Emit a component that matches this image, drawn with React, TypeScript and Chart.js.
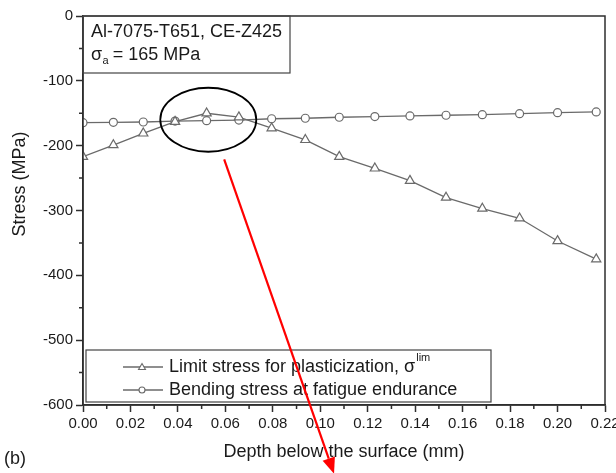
import React, { useEffect, useRef } from "react";
import { Chart, registerables } from "chart.js";

Chart.register(...registerables);

// ---- data ----
const depthMm = [0, 0.0128, 0.0254, 0.0388, 0.0521, 0.0657, 0.0795, 0.0937, 0.108, 0.123, 0.1378, 0.153, 0.1683, 0.184, 0.2, 0.2163];
const limitStress = [-217, -199, -181, -163, -150, -156, -173, -191, -217, -235, -254, -280, -297, -312, -347, -375];
const bendingStress = [-164.5, -164, -163.5, -162, -161.5, -160.5, -158.5, -157.7, -156.2, -155.2, -154.2, -153.1, -152.2, -150.6, -149.1, -148];

const seriesLabels = ["Limit stress for plasticization, σ", "Bending stress at fatigue endurance"];
const seriesSuperscript = "lim";
const annotationTitle = "Al-7075-T651, CE-Z425";
const annotationSigma = "σ";
const annotationSub = "a";
const annotationValue = "= 165 MPa";
const xTitle = "Depth below the surface (mm)";
const yTitle = "Stress (MPa)";
const panelLabel = "(b)";

const xMin = 0;
const xMax = 0.22;
const xStep = 0.02;
const yMin = -600;
const yMax = 0;
const yStep = 100;

// highlighted region (ellipse) and arrow, in data units
const ellipseCenter = [0.0528, -160];
const arrowStart = [0.0595, -221];
const arrowEnd = [0.1058, -706];

const FONT = '"Liberation Sans", Arial, Helvetica, sans-serif';
const LINE = "#6a6a6a";
const INK = "#1a1a1a";
const FRAME = "#2e2e2e";

function drawTriangle(ctx: CanvasRenderingContext2D, x: number, y: number, r: number) {
  ctx.beginPath();
  for (let i = 0; i < 3; i++) {
    const a = (i * 2 * Math.PI) / 3;
    const px = x + Math.sin(a) * r;
    const py = y - Math.cos(a) * r;
    if (i === 0) ctx.moveTo(px, py);
    else ctx.lineTo(px, py);
  }
  ctx.closePath();
  ctx.fill();
  ctx.stroke();
}

const overlayPlugin = {
  id: "overlay",
  afterDraw(chart: any) {
    const { ctx, chartArea: ca, scales } = chart;
    const xs = scales.x;
    const ys = scales.y;
    ctx.save();

    // frame
    ctx.strokeStyle = FRAME;
    ctx.lineWidth = 1.5;
    ctx.strokeRect(ca.left, ca.top, ca.right - ca.left, ca.bottom - ca.top);

    // minor ticks
    ctx.beginPath();
    for (let v = xMin + xStep / 2; v < xMax; v += xStep) {
      const px = xs.getPixelForValue(v);
      ctx.moveTo(px, ca.bottom);
      ctx.lineTo(px, ca.bottom + 4);
    }
    for (let v = yMin + yStep / 2; v < yMax; v += yStep) {
      const py = ys.getPixelForValue(v);
      ctx.moveTo(ca.left - 4, py);
      ctx.lineTo(ca.left, py);
    }
    ctx.stroke();

    // annotation box
    ctx.strokeStyle = "#444";
    ctx.lineWidth = 1.2;
    ctx.strokeRect(ca.left, ca.top, 207, 57);
    ctx.fillStyle = INK;
    ctx.textAlign = "left";
    ctx.textBaseline = "middle";
    ctx.font = `18px ${FONT}`;
    ctx.fillText(annotationTitle, ca.left + 8, ca.top + 16);
    let tx = ca.left + 8;
    const ty = ca.top + 39;
    ctx.fillText(annotationSigma, tx, ty);
    tx += ctx.measureText(annotationSigma).width + 0.5;
    ctx.font = `11px ${FONT}`;
    ctx.fillText(annotationSub, tx, ty + 6);
    tx += ctx.measureText(annotationSub).width + 4;
    ctx.font = `18px ${FONT}`;
    ctx.fillText(annotationValue, tx, ty);

    // legend
    const lx = ca.left + 3;
    const ly = ca.bottom - 55;
    ctx.strokeRect(lx, ly, 405, 52);
    const rows = [ly + 17, ly + 40];
    rows.forEach((ry, i) => {
      ctx.strokeStyle = LINE;
      ctx.lineWidth = 1.3;
      ctx.beginPath();
      ctx.moveTo(lx + 37, ry);
      ctx.lineTo(lx + 77, ry);
      ctx.stroke();
      ctx.fillStyle = "#fff";
      ctx.lineWidth = 1.1;
      if (i === 0) {
        drawTriangle(ctx, lx + 56, ry + 0.5, 4);
      } else {
        ctx.beginPath();
        ctx.arc(lx + 56, ry, 3, 0, Math.PI * 2);
        ctx.fill();
        ctx.stroke();
      }
      ctx.fillStyle = INK;
      ctx.font = `18px ${FONT}`;
      ctx.fillText(seriesLabels[i], lx + 83, ry);
      if (i === 0) {
        const w = ctx.measureText(seriesLabels[i]).width;
        ctx.font = `11px ${FONT}`;
        ctx.fillText(seriesSuperscript, lx + 83 + w + 1, ry - 9);
      }
    });

    // axis title (y)
    ctx.save();
    ctx.translate(20, 184);
    ctx.rotate(-Math.PI / 2);
    ctx.textAlign = "center";
    ctx.font = `18px ${FONT}`;
    ctx.fillStyle = INK;
    ctx.fillText(yTitle, 0, 0);
    ctx.restore();

    // panel label
    ctx.font = `18px ${FONT}`;
    ctx.fillStyle = INK;
    ctx.textAlign = "left";
    ctx.fillText(panelLabel, 4, 459);

    // ellipse
    ctx.strokeStyle = "#000";
    ctx.lineWidth = 1.8;
    ctx.beginPath();
    ctx.ellipse(xs.getPixelForValue(ellipseCenter[0]), ys.getPixelForValue(ellipseCenter[1]), 48, 32, 0, 0, Math.PI * 2);
    ctx.stroke();

    // red arrow
    const sx = xs.getPixelForValue(arrowStart[0]);
    const sy = ys.getPixelForValue(arrowStart[1]);
    const ex = xs.getPixelForValue(arrowEnd[0]);
    const ey = ys.getPixelForValue(arrowEnd[1]);
    const ang = Math.atan2(ey - sy, ex - sx);
    const headLen = 16;
    const headHalf = 6.5;
    const bx = ex - Math.cos(ang) * headLen;
    const by = ey - Math.sin(ang) * headLen;
    ctx.strokeStyle = "#ff0000";
    ctx.fillStyle = "#ff0000";
    ctx.lineWidth = 2.2;
    ctx.beginPath();
    ctx.moveTo(sx, sy);
    ctx.lineTo(bx, by);
    ctx.stroke();
    ctx.beginPath();
    ctx.moveTo(ex, ey);
    ctx.lineTo(bx + Math.sin(ang) * headHalf, by - Math.cos(ang) * headHalf);
    ctx.lineTo(bx - Math.sin(ang) * headHalf, by + Math.cos(ang) * headHalf);
    ctx.closePath();
    ctx.fill();

    ctx.restore();
  },
};

export default function App() {
  const ref = useRef<HTMLCanvasElement>(null);

  useEffect(() => {
    const canvas = ref.current;
    if (!canvas) return;
    const chart = new Chart(canvas, {
      type: "line",
      data: {
        datasets: [
          {
            label: seriesLabels[0],
            data: depthMm.map((x, i) => ({ x, y: limitStress[i] })),
            borderColor: LINE,
            borderWidth: 1.3,
            pointStyle: "triangle",
            pointRadius: 5.3,
            pointBackgroundColor: "#ffffff",
            pointBorderColor: LINE,
            pointBorderWidth: 1.2,
            tension: 0,
          },
          {
            label: seriesLabels[1],
            data: depthMm.map((x, i) => ({ x, y: bendingStress[i] })),
            borderColor: LINE,
            borderWidth: 1.3,
            pointStyle: "circle",
            pointRadius: 4,
            pointBackgroundColor: "#ffffff",
            pointBorderColor: LINE,
            pointBorderWidth: 1.2,
            tension: 0,
          },
        ],
      },
      options: {
        responsive: false,
        animation: false,
        layout: { padding: { left: 0, top: 16, right: 11, bottom: 0 } },
        plugins: { legend: { display: false }, tooltip: { enabled: false } },
        scales: {
          x: {
            type: "linear",
            min: xMin,
            max: xMax,
            ticks: {
              stepSize: xStep,
              autoSkip: false,
              maxRotation: 0,
              padding: 3,
              color: INK,
              font: { size: 15, family: FONT },
              callback: (v: any) => Number(v).toFixed(2),
            },
            grid: { drawOnChartArea: false, drawTicks: true, tickLength: 7, tickColor: FRAME, tickWidth: 1.5 },
            border: { color: FRAME, width: 1.5 },
            title: {
              display: true,
              text: xTitle,
              color: INK,
              font: { size: 18, family: FONT },
              padding: { top: 0, bottom: 10 },
            },
            afterFit: (s: any) => {
              s.height = 68;
              s.paddingLeft = 0;
              s.paddingRight = 0;
            },
          },
          y: {
            type: "linear",
            min: yMin,
            max: yMax,
            ticks: {
              stepSize: yStep,
              padding: 3,
              color: INK,
              font: { size: 15, family: FONT },
              callback: (v: any) => String(v),
            },
            grid: { drawOnChartArea: false, drawTicks: true, tickLength: 7, tickColor: FRAME, tickWidth: 1.5 },
            border: { color: FRAME, width: 1.5 },
            afterFit: (s: any) => {
              s.width = 83;
              s.paddingTop = 0;
              s.paddingBottom = 0;
            },
          },
        },
      },
      plugins: [overlayPlugin],
    } as any);
    return () => chart.destroy();
  }, []);

  return (
    <div style={{ position: "absolute", left: 0, top: 0, width: 616, height: 473, background: "#fff" }}>
      <canvas ref={ref} width={616} height={473} style={{ display: "block" }} />
    </div>
  );
}
